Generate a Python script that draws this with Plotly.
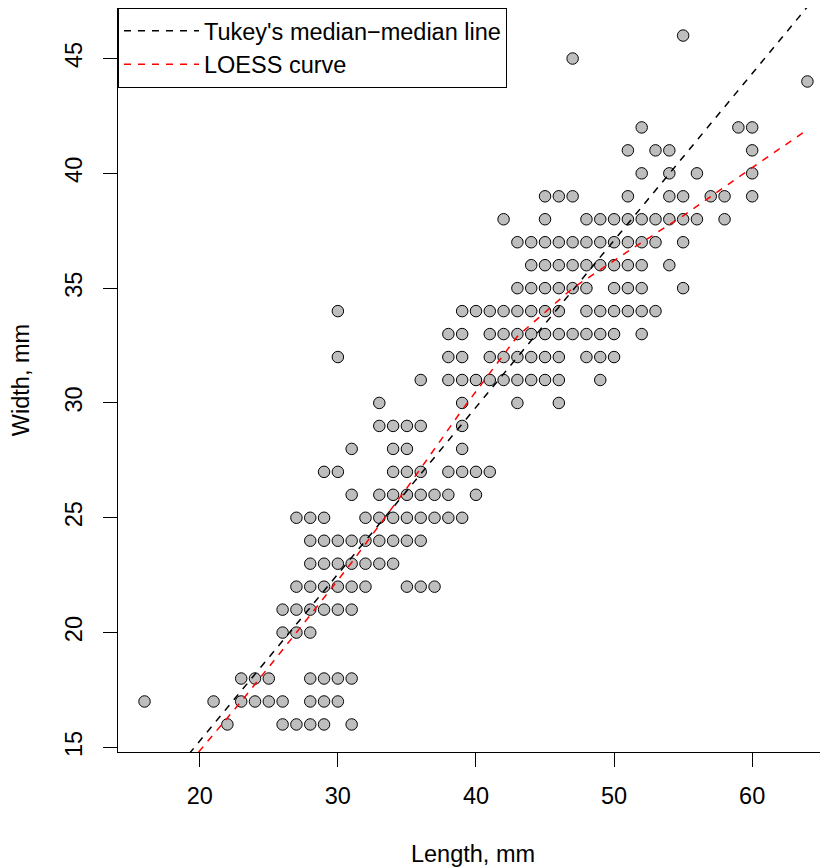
import plotly.graph_objects as go

# ---- data (width value -> list of lengths) ----
rows = {
    16: [22, 26, 27, 28, 29, 31],
    17: [16, 21, 23, 24, 25, 26, 28, 29, 30],
    18: [23, 24, 25, 28, 29, 30, 31],
    20: [26, 27, 28],
    21: [26, 27, 28, 29, 30, 31],
    22: [27, 28, 29, 30, 31, 32, 35, 36, 37],
    23: [28, 29, 30, 31, 32, 33, 34],
    24: [28, 29, 30, 31, 32, 33, 34, 35, 36],
    25: [27, 28, 29, 32, 33, 34, 35, 36, 37, 38, 39],
    26: [31, 33, 34, 35, 36, 37, 38, 40],
    27: [29, 30, 34, 35, 36, 38, 39, 40, 41],
    28: [31, 34, 35, 39],
    29: [33, 34, 35, 36, 39],
    30: [33, 39, 43, 46],
    31: [36, 38, 39, 40, 41, 42, 43, 44, 45, 46, 49],
    32: [30, 38, 39, 41, 42, 43, 44, 45, 46, 48, 49, 50],
    33: [38, 39, 41, 42, 43, 44, 45, 46, 47, 48, 49, 50, 52],
    34: [30, 39, 40, 41, 42, 43, 44, 45, 46, 48, 49, 50, 51, 52, 53],
    35: [43, 44, 45, 46, 47, 48, 50, 51, 52, 55],
    36: [44, 45, 46, 47, 48, 49, 50, 51, 52, 54],
    37: [43, 44, 45, 46, 47, 48, 49, 50, 51, 52, 53, 55],
    38: [42, 45, 48, 49, 50, 51, 52, 53, 54, 55, 56, 58],
    39: [45, 46, 47, 51, 54, 55, 57, 58, 60],
    40: [52, 54, 56, 60],
    41: [51, 53, 54, 60],
    42: [52, 59, 60],
    44: [64],
    45: [47],
    46: [55],
}
length_mm = [x for w, xs in rows.items() for x in xs]
width_mm = [w for w, xs in rows.items() for _ in xs]

# Tukey median-median line coefficients
tukey_intercept = 0.75
tukey_slope = 0.7266

# LOESS curve
loess_x = [16, 20, 23, 27, 31, 35, 39, 43, 47, 51, 55, 60, 64]
loess_y = [12.0, 14.85, 17.0, 20.0, 23.05, 26.3, 29.7, 32.9, 35.0, 36.6, 38.15, 40.25, 41.9]

x_ticks = [20, 30, 40, 50, 60]
y_ticks = [15, 20, 25, 30, 35, 40, 45]

FONT = "Liberation Sans, Arial, sans-serif"
FS = 23.5

xmin, xmax = min(length_mm), max(length_mm)
tukey_x = [xmin, xmax]
tukey_y = [tukey_intercept + tukey_slope * v for v in tukey_x]

fig = go.Figure()
fig.add_trace(go.Scatter(
    x=length_mm, y=width_mm, mode="markers", showlegend=False,
    marker=dict(size=11.5, color="#BEBEBE", line=dict(color="black", width=1)),
))
fig.add_trace(go.Scatter(
    x=tukey_x, y=tukey_y, mode="lines", name="Tukey's median\u2212median line",
    line=dict(color="black", width=1.5, dash="7px,7px"),
))
fig.add_trace(go.Scatter(
    x=loess_x, y=loess_y, mode="lines", name="LOESS curve",
    line=dict(color="red", width=1.5, dash="7px,7px"),
))

# page body adds an 8px margin, so the figure is 820x860 and offsets compensate
fig.update_layout(
    template="none",
    width=820, height=860,
    margin=dict(l=110, r=0, t=0, b=116, autoexpand=False),
    paper_bgcolor="white", plot_bgcolor="white",
    font=dict(family=FONT, size=FS, color="black"),
    showlegend=True,
    legend=dict(
        x=0, y=1, xanchor="left", yanchor="top",
        bgcolor="white", bordercolor="black", borderwidth=1,
        font=dict(family=FONT, size=FS), itemwidth=75,
        tracegroupgap=0,
    ),
)
fig.update_xaxes(
    automargin=False,
    range=[14.08, 65.49], tickmode="array", tickvals=x_ticks,
    ticks="outside", ticklen=14, tickcolor="black", tickwidth=1,
    ticklabelstandoff=9,
    showline=True, linecolor="black", linewidth=1, mirror=True,
    showgrid=False, zeroline=False,
    title=dict(text="Length, mm", standoff=37, font=dict(family=FONT, size=FS)),
)
fig.update_yaxes(
    automargin=False,
    range=[14.8, 47.2], tickmode="array", tickvals=y_ticks,
    ticks="outside", ticklen=14, tickcolor="black", tickwidth=1,
    ticklabelstandoff=12,
    showline=True, linecolor="black", linewidth=1, mirror=False,
    showgrid=False, zeroline=False, tickangle=-90,
    title=dict(text="Width, mm", standoff=36, font=dict(family=FONT, size=FS)),
)

fig.write_html("out.html")
